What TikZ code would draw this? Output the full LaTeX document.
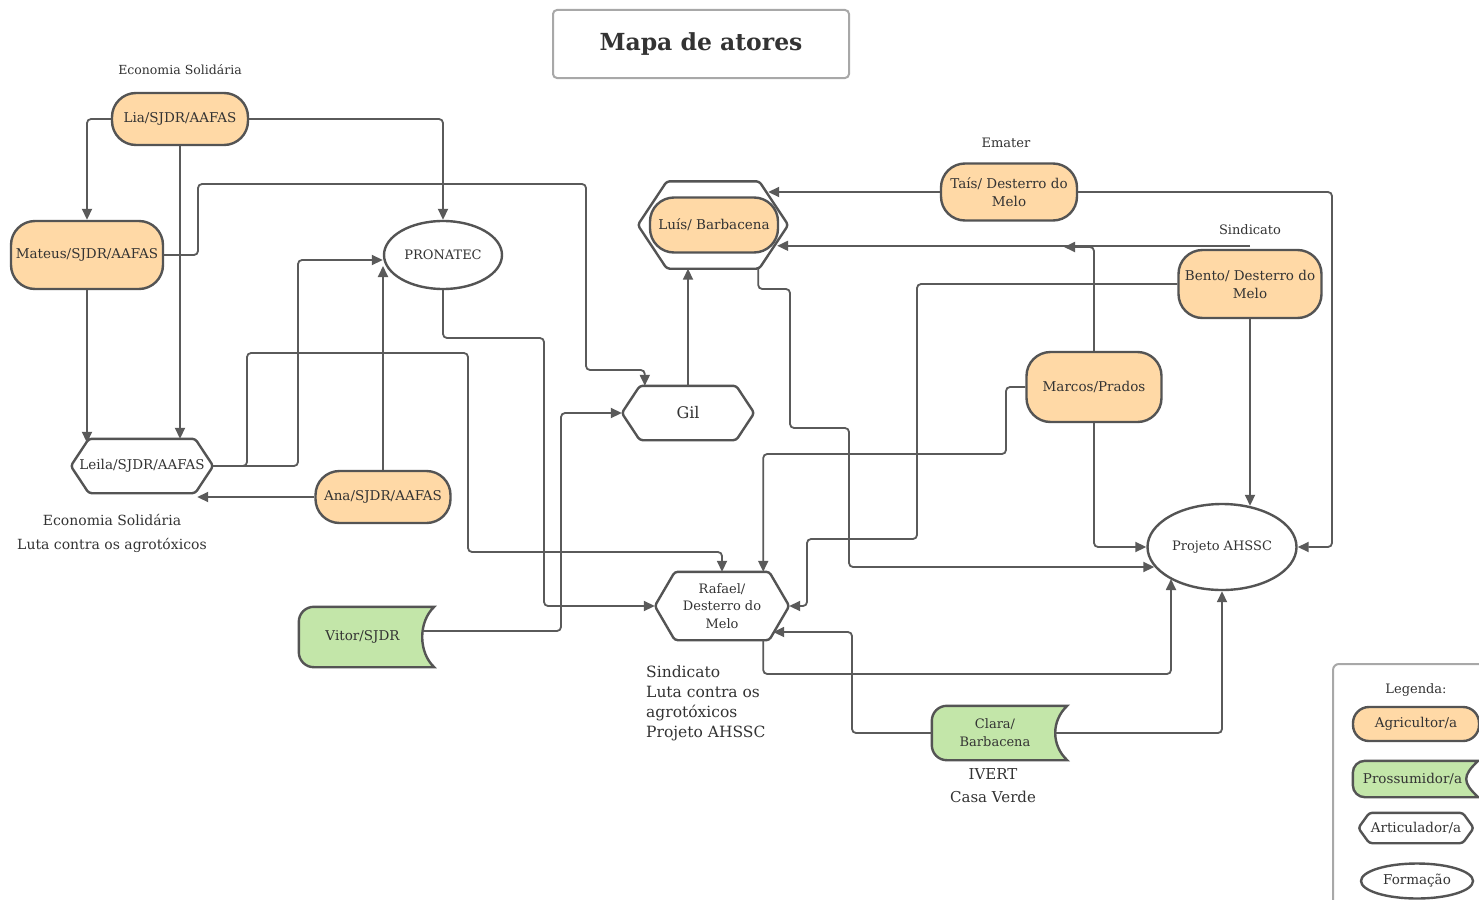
\documentclass[tikz,border=0pt]{standalone}
\usepackage{fontspec}
\setmainfont{DejaVu Serif}
\usetikzlibrary{arrows.meta,calc,shapes.geometric,backgrounds}
\definecolor{agri}{HTML}{FFD9A6}
\definecolor{prossc}{HTML}{C3E6A9}
\definecolor{edgec}{HTML}{545454}
\definecolor{connc}{HTML}{5A5A5A}
\definecolor{ink}{HTML}{333333}
\definecolor{framec}{HTML}{A8A8A8}
\newcommand{\fsz}[2]{\fontsize{#1}{#2}\selectfont}
\newcommand{\hexdraw}[2]{\draw[shapeline] (#1.north) -- ([xshift=-#2]#1.north east) -- (#1.east) -- ([xshift=-#2]#1.south east) -- ([xshift=#2]#1.south west) -- (#1.west) -- ([xshift=#2]#1.north west) -- cycle;}
\newcommand{\prossdraw}[2]{\draw[shapeline, fill=prossc] (#1.north) [rounded corners=#2] -- (#1.north west) -- (#1.south west) -- (#1.south) [sharp corners] -- (#1.south east) .. controls ($(#1.south east)+(-16,-15)$) and ($(#1.north east)+(-16,15)$) .. (#1.north east) -- cycle;}
\begin{document}
\begin{tikzpicture}[x=1pt,y=-1pt,
  base/.style={text=ink, align=center, inner sep=0pt, font=\fsz{13.5}{18}},
  pill/.style={base, draw=edgec, line width=2.4pt, fill=agri, rounded corners=24pt},
  pross/.style={base},
  hexn/.style={base},
  form/.style={base, ellipse, draw=edgec, line width=2.4pt},
  shapeline/.style={draw=edgec, line width=2.4pt, rounded corners=3pt},
  link/.style={draw=connc, line width=1.8pt, rounded corners=4pt, -{Triangle[length=11pt,width=10pt]}},
  lbl/.style={text=ink, inner sep=0pt, font=\fsz{13}{16}}]
\useasboundingbox (0,0) rectangle (1479,899);
\clip (0,0) rectangle (1479,899);
\begin{scope}[on background layer]
\fill[white] (-5,-5) rectangle (1485,905);
\end{scope}

% title
\node[draw=framec, line width=2pt, rounded corners=4pt, minimum width=296pt, minimum height=68pt, text=ink, font=\fsz{23.5}{27}\bfseries] (title) at (701,44) {Mapa de atores};

% actors
\node[pill, minimum width=136pt, minimum height=52pt] (Lia) at (180,119) {Lia/SJDR/AAFAS};
\node[pill, minimum width=152pt, minimum height=68pt] (Mateus) at (87,255) {Mateus/SJDR/AAFAS};
\node[form, minimum width=118pt, minimum height=68pt, font=\fsz{13}{15}] (PRONATEC) at (443,255) {PRONATEC};
\node[hexn, minimum width=142pt, minimum height=54pt] (Leila) at (142,466) {Leila/SJDR/AAFAS};
\hexdraw{Leila}{18pt}
\node[pill, minimum width=135pt, minimum height=52pt] (Ana) at (383,497) {Ana/SJDR/AAFAS};
\node[hexn, minimum width=150pt, minimum height=87pt] (LuisOut) at (713,225) {};
\hexdraw{LuisOut}{29pt}
\node[pill, minimum width=128pt, minimum height=55pt] (Luis) at (714,225) {Luís/ Barbacena};
\node[hexn, minimum width=132pt, minimum height=54pt, font=\fsz{16}{18}] (Gil) at (688,413) {Gil};
\hexdraw{Gil}{18pt}
\node[pill, minimum width=136pt, minimum height=57pt] (Tais) at (1009,192) {Taís/ Desterro do\\Melo};
\node[pill, minimum width=143pt, minimum height=68pt] (Bento) at (1250,284) {Bento/ Desterro do\\Melo};
\node[pill, minimum width=135pt, minimum height=70pt] (Marcos) at (1094,387) {Marcos/Prados};
\node[form, minimum width=149pt, minimum height=86pt, font=\fsz{13}{16}] (Projeto) at (1222,547) {Projeto AHSSC};
\node[hexn, minimum width=134pt, minimum height=68pt, font=\fsz{13}{17.5}] (Rafael) at (722,606) {Rafael/\\Desterro do\\Melo};
\hexdraw{Rafael}{20pt}
\node[pross, minimum width=135pt, minimum height=60pt] (Vitor) at (366.5,637) {\hspace*{-8pt}Vitor/SJDR};
\begin{scope}[on background layer]\prossdraw{Vitor}{15pt}\end{scope}
\node[pross, minimum width=135pt, minimum height=54pt, font=\fsz{13}{18}] (Clara) at (999.5,733) {\hspace*{-9pt}Clara/\\\hspace*{-9pt}Barbacena};
\begin{scope}[on background layer]\prossdraw{Clara}{15pt}\end{scope}

% free ends
\coordinate (LeilaBR) at ([xshift=-16pt]Leila.south east);
\coordinate (LuisTR) at ([xshift=-20pt]LuisOut.east);
\coordinate (LuisBR) at ([xshift=-11pt]LuisOut.east);
\coordinate (merge) at (1064,247);

% labels
\node[lbl, font=\fsz{12.5}{14}] (tEco) at (180,70) {Economia Solidária};
\node[lbl] (tEmater) at (1006,143) {Emater};
\node[lbl] (tSind) at (1250,230) {Sindicato};
\node[lbl, align=center, font=\fsz{14}{24}] (tLeila) at (112,533) {Economia Solidária\\Luta contra os agrotóxicos};
\node[lbl, align=left, font=\fsz{15.5}{20}, anchor=west] (tRafael) at (646,703) {Sindicato\\Luta contra os\\agrotóxicos\\Projeto AHSSC};
\node[lbl, align=center, font=\fsz{15}{23}] (tClara) at (993,786) {IVERT\\Casa Verde};

% connectors
\draw[link] (Lia.west) -| (Mateus.north);
\draw[link] (Lia.east) -| (PRONATEC.north);
\draw[link] (Lia.south) -- (Lia.south |- Leila.north);
\draw[link] (Mateus.south) -- ([yshift=-4pt]Mateus.south |- Leila.north);
\draw[link] (Mateus.east) -| (198,184) -| (586,370) -| ([xshift=23pt]Gil.north west);
\draw[link] (Leila.east) -| (298,260) -- ([yshift=-5pt]PRONATEC.west);
\draw[link] (Leila.east) -| (247,353) -| (468,552) -| (Rafael.north);
\draw[link] (Ana.west) -- (Ana.west -| LeilaBR);
\draw[link] (Ana.north) -- ([yshift=-11pt]Ana.north |- PRONATEC.west);
\draw[link] (PRONATEC.south) |- (544,338) |- (Rafael.west);
\draw[link] ([xshift=-11pt,yshift=6pt]Vitor.east) -| (561,500) |- (Gil.west);
\draw[link] (Gil.north) -- (Gil.north |- LuisOut.south);
\draw[link] (Tais.west) -- (Tais.west -| LuisTR);
\draw[link] ([yshift=3pt]Bento.north) -- ([yshift=3pt]Bento.north -| LuisBR);
\draw[link] (Marcos.north) |- (merge);
\draw[link] (Bento.west) -| (917,539) -| (807,590) |- (Rafael.east);
\draw[link] (Marcos.west) -| (1006,454) -| ([xshift=-26pt]Rafael.north east);
\draw[link] (Marcos.south) |- (Projeto.west);
\draw[link] ([xshift=-30pt]LuisOut.south east) |- (790,289) |- (849,428) |- ([xshift=8pt,yshift=-20pt]Projeto.west);
\draw[link] ([xshift=-26pt]Rafael.south east) |- (1171,674) -- ([xshift=-51pt,yshift=-32pt]Projeto.center);
\draw[link] (Clara.west) -| (852,660) |- ([xshift=-16pt,yshift=-26pt]Rafael.east);
\draw[link] ([xshift=-12pt]Clara.east) -| (Projeto.south);
\draw[link] (Bento.south) -- ([yshift=-3pt]Bento.south |- Projeto.north);
\draw[link] (Tais.east) -| (1332,500) |- (Projeto.east);

% legend
\draw[draw=framec, line width=2pt, rounded corners=6pt] (1490,664) -- (1333,664) -- (1333,905);
\node[lbl] (legT) at (1416,690) {Legenda:};
\node[pill, minimum width=126pt, minimum height=34pt, rounded corners=16pt] (legA) at (1416,724) {Agricultor/a};
\node[pross, minimum width=125pt, minimum height=36pt] (legP) at (1415.5,779) {\hspace*{-6pt}Prossumidor/a};
\begin{scope}[on background layer]\prossdraw{legP}{12pt}\end{scope}
\node[hexn, minimum width=115pt, minimum height=30pt] (legH) at (1416,828) {Articulador/a};
\hexdraw{legH}{11pt}
\node[form, minimum width=112pt, minimum height=35pt] (legF) at (1417,881) {Formação};
\end{tikzpicture}
\end{document}
